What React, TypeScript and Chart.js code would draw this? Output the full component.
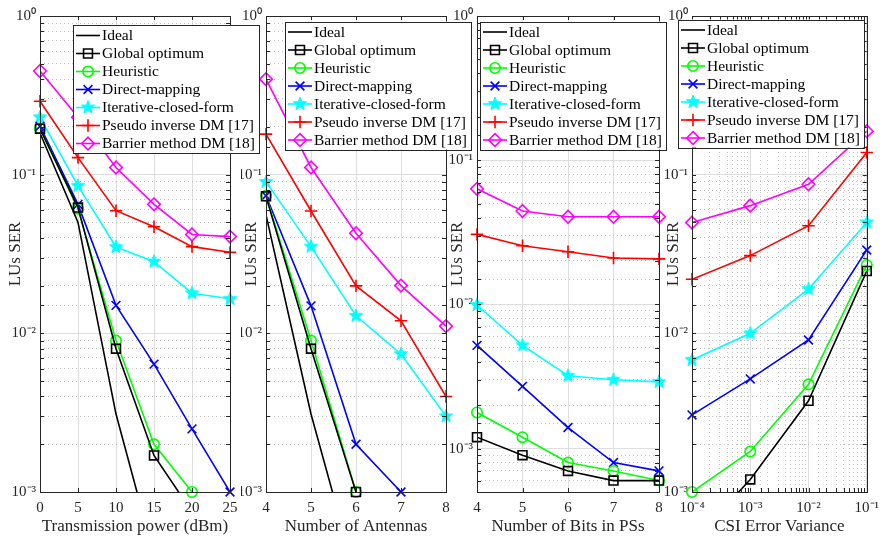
import React, { useEffect, useRef } from 'react';
import { Chart, registerables } from 'chart.js';
import { drawPoint } from 'chart.js/helpers';

Chart.register(...registerables);

const FONT = "'Liberation Serif', 'Times New Roman', serif";
const AXIS_COLOR = '#262626';

// ---------- series names ----------
const seriesNames = [
  'Ideal',
  'Global optimum',
  'Heuristic',
  'Direct-mapping',
  'Iterative-closed-form',
  'Pseudo inverse DM [17]',
  'Barrier method DM [18]',
];

// ---------- panel 1: Transmission power ----------
const powerDbm = [0, 5, 10, 15, 20, 25];
const p1Ideal = [0.183, 0.05, 0.0031, 0.0004, null, null];
const p1Global = [0.195, 0.062, 0.008, 0.0017, 0.00075, null];
const p1Heuristic = [0.196, 0.061, 0.009, 0.002, 0.001, null];
const p1Direct = [0.202, 0.065, 0.015, 0.0064, 0.0025, 0.001];
const p1Iterative = [0.23, 0.085, 0.035, 0.0283, 0.0179, 0.0165];
const p1Pseudo = [0.29, 0.128, 0.0593, 0.047, 0.0352, 0.0324];
const p1Barrier = [0.45, 0.23, 0.111, 0.065, 0.042, 0.0407];

// ---------- panel 2: Number of antennas ----------
const antennas = [4, 5, 6, 7, 8];
const p2Ideal = [0.0557, 0.0031, 0.00029, null, null];
const p2Global = [0.073, 0.008, 0.001, null, null];
const p2Heuristic = [0.0737, 0.009, 0.001, null, null];
const p2Direct = [0.0737, 0.0149, 0.002, 0.001, null];
const p2Iterative = [0.09, 0.0352, 0.0129, 0.0074, 0.003];
const p2Pseudo = [0.18, 0.059, 0.0199, 0.012, 0.004];
const p2Barrier = [0.4, 0.111, 0.0427, 0.02, 0.0111];

// ---------- panel 3: Number of bits in PSs ----------
const bits = [4, 5, 6, 7, 8];
const p3Ideal = [null, null, null, null, null];
const p3Global = [0.0012, 0.0009, 0.0007, 0.0006, 0.0006];
const p3Heuristic = [0.00178, 0.0012, 0.0008, 0.0007, 0.0006];
const p3Direct = [0.0052, 0.0027, 0.0014, 0.0008, 0.0007];
const p3Iterative = [0.0099, 0.0052, 0.0032, 0.003, 0.0029];
const p3Pseudo = [0.0306, 0.0255, 0.0232, 0.021, 0.0207];
const p3Barrier = [0.0633, 0.0444, 0.0405, 0.0405, 0.0405];

// ---------- panel 4: CSI error variance ----------
const csiVar = [1e-4, 1e-3, 1e-2, 1e-1];
const p4Ideal = [null, null, null, null];
const p4Global = [0.00048, 0.0012, 0.00376, 0.0247];
const p4Heuristic = [0.001, 0.0018, 0.00477, 0.027];
const p4Direct = [0.00306, 0.00516, 0.00908, 0.0335];
const p4Iterative = [0.0068, 0.01, 0.019, 0.05];
const p4Pseudo = [0.0219, 0.0309, 0.0477, 0.138];
const p4Barrier = [0.0499, 0.0638, 0.087, 0.188];

// ---------- styles ----------
const seriesColors = ['#000000', '#000000', '#00ff00', '#0000ff', '#00ffff', '#ff0000', '#ff00ff'];
const seriesMarkers = [null, 'rect', 'circle', 'crossRot', 'star', 'cross', 'rectRot'];
const markerRadii = [0, 6.3, 5.2, 6.2, 7, 6.2, 6.3];
const LINE_W = 1.6;

const panels = [
  {
    x: powerDbm, xType: 'linear', xMin: 0, xMax: 25, xStep: 5,
    xTitle: 'Transmission power (dBm)', yMin: 1e-3,
    series: [p1Ideal, p1Global, p1Heuristic, p1Direct, p1Iterative, p1Pseudo, p1Barrier],
    padLeft: 5, yW: 35, right: 230, legend: { left: 73, top: 25 },
  },
  {
    x: antennas, xType: 'linear', xMin: 4, xMax: 8, xStep: 1,
    xTitle: 'Number of Antennas', yMin: 1e-3,
    series: [p2Ideal, p2Global, p2Heuristic, p2Direct, p2Iterative, p2Pseudo, p2Barrier],
    padLeft: 241, yW: 25, right: 446, legend: { left: 285, top: 21.5 },
  },
  {
    x: bits, xType: 'linear', xMin: 4, xMax: 8, xStep: 1,
    xTitle: 'Number of Bits in PSs', yMin: 5e-4,
    series: [p3Ideal, p3Global, p3Heuristic, p3Direct, p3Iterative, p3Pseudo, p3Barrier],
    padLeft: 447, yW: 30, right: 659, legend: { left: 480, top: 21.5 },
  },
  {
    x: csiVar, xType: 'logarithmic', xMin: 1e-4, xMax: 1e-1, xStep: undefined,
    xTitle: 'CSI Error Variance', yMin: 1e-3,
    series: [p4Ideal, p4Global, p4Heuristic, p4Direct, p4Iterative, p4Pseudo, p4Barrier],
    padLeft: 663, yW: 29, right: 876, legend: { left: 678, top: 19.5 },
  },
];

const SUP: Record<string, string> = {
  '-': '\u207B', '0': '\u2070', '1': '\u00B9', '2': '\u00B2', '3': '\u00B3',
  '4': '\u2074', '5': '\u2075', '6': '\u2076', '7': '\u2077', '8': '\u2078', '9': '\u2079',
};

function isDecade(v: number) {
  const e = Math.log10(v);
  return Math.abs(e - Math.round(e)) < 1e-6;
}

function pow10Label(v: number) {
  if (!isDecade(v)) return '';
  const r = Math.round(Math.log10(v));
  return '10' + String(r).split('').map((c) => SUP[c]).join('');
}

function makeStar(color: string) {
  const c = document.createElement('canvas');
  c.width = 16;
  c.height = 16;
  const g = c.getContext('2d')!;
  g.beginPath();
  for (let i = 0; i < 10; i++) {
    const r = i % 2 === 0 ? 7 : 2.9;
    const a = -Math.PI / 2 + (i * Math.PI) / 5;
    g.lineTo(8 + r * Math.cos(a), 8 + r * Math.sin(a));
  }
  g.closePath();
  g.fillStyle = color;
  g.fill();
  g.strokeStyle = color;
  g.lineWidth = 1;
  g.stroke();
  return c;
}

function framePlugin(panel: any, styles: any[]) {
  return {
    id: 'frame' + panel.padLeft,
    afterDraw(chart: any) {
      const { ctx, chartArea: a } = chart;
      const xs = chart.scales.x;
      const ys = chart.scales.y;
      ctx.save();
      // inward tick marks
      ctx.strokeStyle = AXIS_COLOR;
      ctx.lineWidth = 1;
      ctx.beginPath();
      ys.ticks.forEach((t: any) => {
        const py = Math.round(ys.getPixelForValue(t.value)) + 0.5;
        ctx.moveTo(a.left, py);
        ctx.lineTo(a.left + 4, py);
        ctx.moveTo(a.right, py);
        ctx.lineTo(a.right - 4, py);
      });
      xs.ticks.forEach((t: any) => {
        const px = Math.round(xs.getPixelForValue(t.value)) + 0.5;
        ctx.moveTo(px, a.bottom);
        ctx.lineTo(px, a.bottom - 4);
        ctx.moveTo(px, a.top);
        ctx.lineTo(px, a.top + 4);
      });
      ctx.stroke();
      ctx.strokeRect(
        Math.round(a.left) + 0.5,
        Math.round(a.top) + 0.5,
        Math.round(a.right - a.left),
        Math.round(a.bottom - a.top)
      );

      // legend box
      ctx.font = `15.5px ${FONT}`;
      const textW = Math.max(...seriesNames.map((n) => ctx.measureText(n).width));
      const L = panel.legend.left;
      const T = panel.legend.top;
      const W = Math.round(29 + textW + 4);
      const H = 128;
      ctx.fillStyle = '#ffffff';
      ctx.fillRect(L, T, W, H);
      ctx.strokeStyle = AXIS_COLOR;
      ctx.lineWidth = 1;
      ctx.strokeRect(Math.round(L) + 0.5, Math.round(T) + 0.5, W, H);
      seriesNames.forEach((name, i) => {
        const cy = T + 10.5 + i * 18;
        ctx.strokeStyle = seriesColors[i];
        ctx.lineWidth = LINE_W;
        ctx.beginPath();
        ctx.moveTo(L + 3, cy);
        ctx.lineTo(L + 27, cy);
        ctx.stroke();
        const st = styles[i];
        if (st) {
          ctx.fillStyle = 'rgba(0,0,0,0)';
          ctx.strokeStyle = seriesColors[i];
          ctx.lineWidth = LINE_W;
          drawPoint(ctx, { pointStyle: st, radius: markerRadii[i], borderWidth: LINE_W, rotation: 0 }, L + 15, cy);
        }
        ctx.fillStyle = '#000000';
        ctx.textAlign = 'left';
        ctx.textBaseline = 'middle';
        ctx.fillText(name, L + 29, cy + 0.5);
      });
      ctx.restore();
    },
  };
}

function buildConfig(panel: any, styles: any[]) {
  const datasets: any[] = [];
  panel.series.forEach((vals: (number | null)[], i: number) => {
    const pts = panel.x.map((xv: number, k: number) => ({ x: xv, y: vals[k] }));
    datasets.push({
      data: pts,
      borderColor: seriesColors[i],
      borderWidth: LINE_W,
      pointRadius: 0,
      pointHoverRadius: 0,
      fill: false,
      tension: 0,
      spanGaps: false,
    });
    if (styles[i]) {
      datasets.push({
        data: pts,
        showLine: false,
        pointStyle: styles[i],
        pointRadius: markerRadii[i],
        pointHoverRadius: markerRadii[i],
        pointBorderColor: seriesColors[i],
        pointBackgroundColor: 'rgba(0,0,0,0)',
        pointBorderWidth: LINE_W,
        clip: false,
      });
    }
  });

  const gridColor = (ctx: any) => {
    const t = ctx.tick;
    if (!t) return 'rgba(0,0,0,0)';
    return isDecade(t.value) ? '#dedede' : '#c4c4c4';
  };
  const gridDash = (ctx: any) => {
    const t = ctx.tick;
    if (!t) return [];
    return isDecade(t.value) ? [] : [1, 3];
  };

  const xScale: any = {
    type: panel.xType,
    min: panel.xMin,
    max: panel.xMax,
    afterFit: (s: any) => {
      s.height = 48;
    },
    ticks: {
      autoSkip: false,
      maxRotation: 0,
      padding: 7,
      color: AXIS_COLOR,
      font: { family: FONT, size: 15 },
    },
    grid: { drawTicks: false, color: '#dedede', lineWidth: 1 },
    border: { display: false },
    title: {
      display: true,
      text: panel.xTitle,
      color: AXIS_COLOR,
      font: { family: FONT, size: 17 },
      padding: { top: 0, bottom: 3 },
    },
  };
  if (panel.xType === 'linear') {
    xScale.ticks.stepSize = panel.xStep;
  } else {
    xScale.ticks.callback = (v: number) => pow10Label(v);
    xScale.grid.color = gridColor;
    xScale.border.dash = gridDash;
  }

  return {
    type: 'line',
    data: { datasets },
    options: {
      animation: false,
      responsive: false,
      devicePixelRatio: 1,
      events: [],
      layout: {
        autoPadding: false,
        padding: { left: panel.padLeft, right: 886 - panel.right, top: 16, bottom: 0 },
      },
      plugins: { legend: { display: false }, tooltip: { enabled: false } },
      scales: {
        x: xScale,
        y: {
          type: 'logarithmic',
          min: panel.yMin,
          max: 1,
          afterFit: (s: any) => {
            s.width = panel.yW;
          },
          ticks: {
            autoSkip: false,
            padding: 4,
            color: AXIS_COLOR,
            font: { family: FONT, size: 15 },
            callback: (v: number) => pow10Label(v),
          },
          grid: { drawTicks: false, color: gridColor, lineWidth: 1 },
          border: { display: false, dash: gridDash },
          title: {
            display: true,
            text: 'LUs SER',
            color: AXIS_COLOR,
            font: { family: FONT, size: 17 },
            padding: 0,
          },
        },
      },
    },
    plugins: [framePlugin(panel, styles)],
  };
}

export default function App() {
  const canvases = useRef<(HTMLCanvasElement | null)[]>([]);

  useEffect(() => {
    const star = makeStar('#00ffff');
    const styles = seriesMarkers.map((m) => (m === 'star' ? star : m));
    const charts = panels.map((p, i) => new Chart(canvases.current[i] as HTMLCanvasElement, buildConfig(p, styles) as any));
    return () => charts.forEach((c) => c.destroy());
  }, []);

  return (
    <div style={{ position: 'absolute', left: 0, top: 0, width: 886, height: 540, background: '#ffffff' }}>
      {panels.map((p, i) => (
        <canvas
          key={i}
          ref={(el) => {
            canvases.current[i] = el;
          }}
          width={886}
          height={540}
          style={{ position: 'absolute', left: 0, top: 0, width: 886, height: 540, zIndex: 10 - i }}
        />
      ))}
    </div>
  );
}
